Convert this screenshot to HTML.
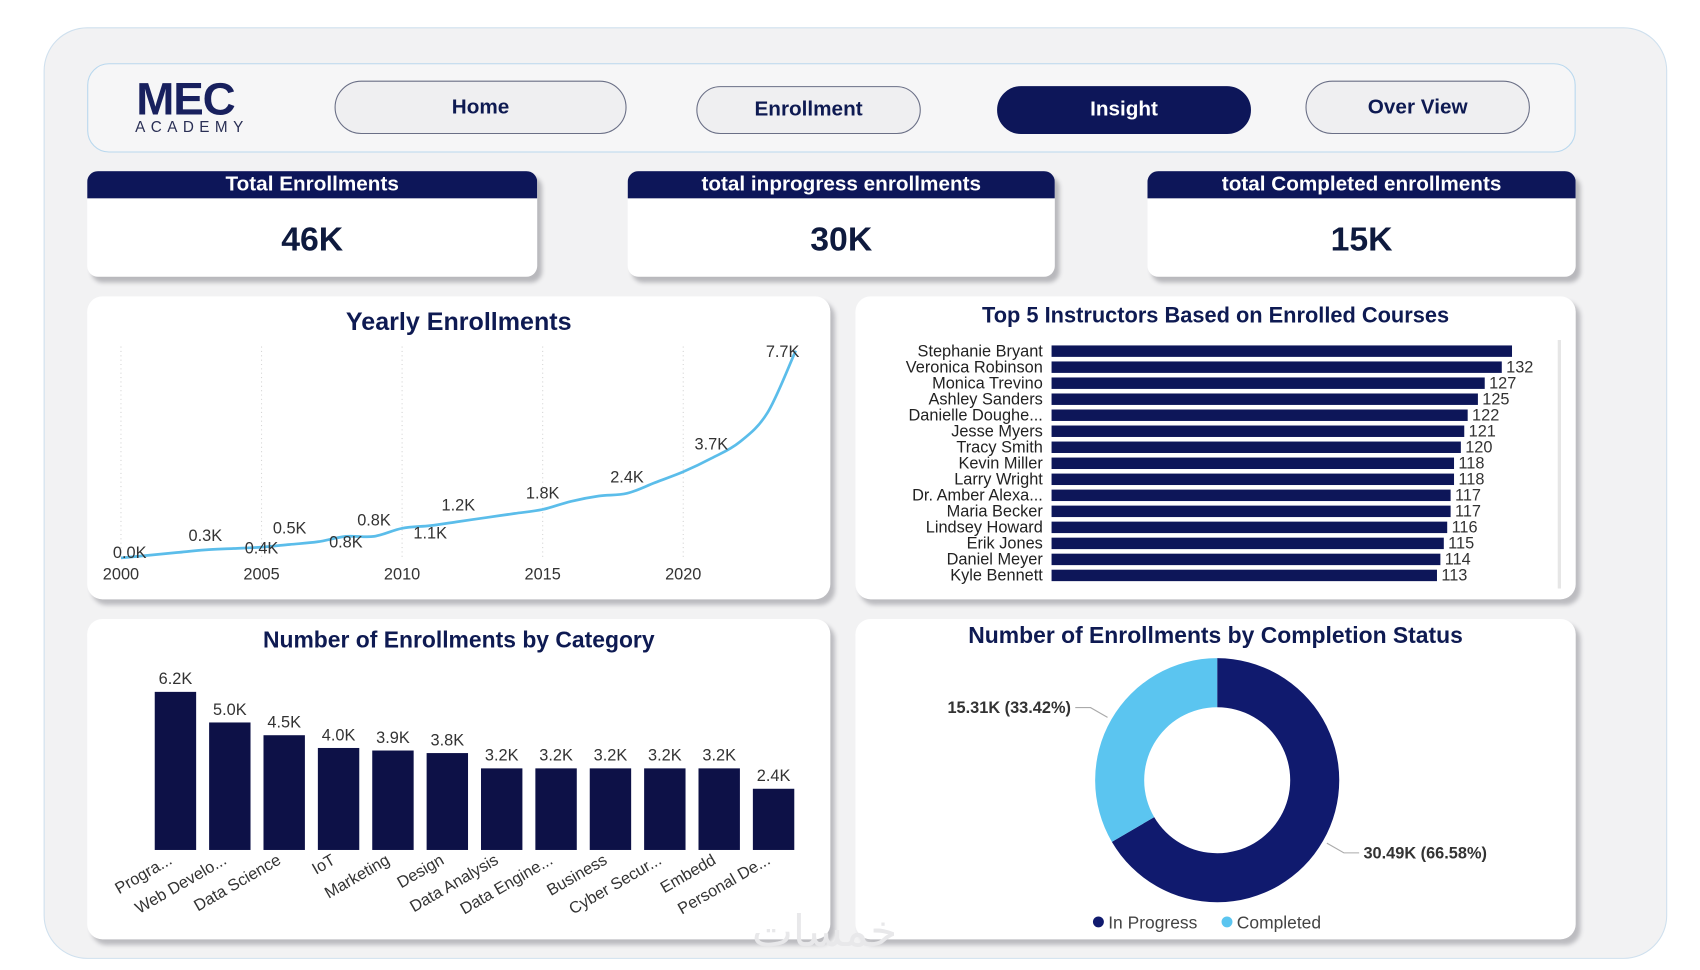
<!DOCTYPE html>
<html><head><meta charset="utf-8">
<style>
html,body{margin:0;padding:0;background:#fff;width:1700px;height:970px;overflow:hidden;font-family:"Liberation Sans",sans-serif;}
#wrap{position:absolute;left:0;top:0;width:1560px;height:890px;transform:scale(1.0897);transform-origin:0 0;}
.abs{position:absolute;}
#outer{left:40px;top:25px;width:1488px;height:853px;background:#f2f2f3;border:1px solid #cfe0ee;border-radius:40px;}
#nav{left:80px;top:58px;width:1364px;height:80px;background:#f6f6f7;border:1.5px solid #b9d8ee;border-radius:20px;}
.btn{position:absolute;border:1.5px solid #6a6f86;background:#efeff1;border-radius:30px;color:#0e1a52;font-weight:bold;font-size:19px;display:flex;align-items:center;justify-content:center;box-sizing:border-box;}
.kpi{position:absolute;background:#fff;border-radius:10px;box-shadow:4px 5px 4px #b8b8bc;overflow:hidden;}
.kpi .h{background:#0d1659;color:#fff;font-weight:bold;font-size:19px;text-align:center;height:25px;line-height:25px;}
.kpi .v{text-align:center;font-weight:bold;font-size:31px;color:#0e1a3e;margin-top:20px;}
.panel{position:absolute;background:#fff;border-radius:14px;box-shadow:4px 5px 4px #bcbcc0;}
.title{position:absolute;left:0;right:0;text-align:center;font-weight:bold;color:#0e1a52;font-size:21px;}
svg text{font-family:"Liberation Sans",sans-serif;}
</style></head><body>
<div id="wrap">
<div id="outer" class="abs"></div>
<div id="nav" class="abs">
  <div class="abs" style="left:44px;top:12px;font-weight:900;font-size:42px;color:#18205e;letter-spacing:-1px;line-height:40px;">MEC</div>
  <div class="abs" style="left:43px;top:49px;font-size:14px;color:#2a2f55;letter-spacing:5px;">ACADEMY</div>
</div>
<div class="btn" style="left:307px;top:74px;width:268px;height:49px;">Home</div>
<div class="btn" style="left:639px;top:79px;width:206px;height:44px;">Enrollment</div>
<div class="btn" style="left:915px;top:79px;width:233px;height:44px;background:#0d1659;border-color:#0d1659;color:#fff;">Insight</div>
<div class="btn" style="left:1198px;top:74px;width:206px;height:49px;">Over View</div>

<div class="kpi" style="left:80px;top:157px;width:413px;height:97px;"><div class="h">Total Enrollments</div><div class="v">46K</div></div>
<div class="kpi" style="left:576px;top:157px;width:392px;height:97px;"><div class="h">total inprogress enrollments</div><div class="v">30K</div></div>
<div class="kpi" style="left:1053px;top:157px;width:393px;height:97px;"><div class="h">total Completed enrollments</div><div class="v">15K</div></div>

<div class="panel" style="left:80px;top:272px;width:682px;height:278px;">
  <div class="title" style="top:10px;font-size:23px;">Yearly Enrollments</div>
</div>
<div class="panel" style="left:785px;top:272px;width:661px;height:278px;">
  <div class="title" style="top:7px;font-size:20px;">Top 5 Instructors Based on Enrolled Courses</div>
</div>
<div class="panel" style="left:80px;top:568px;width:682px;height:294px;">
  <div class="title" style="top:8px;font-size:21px;">Number of Enrollments by Category</div>
</div>
<div class="panel" style="left:785px;top:568px;width:661px;height:294px;">
  <div class="title" style="top:4px;font-size:21px;">Number of Enrollments by Completion Status</div>
</div>

<svg id="charts" class="abs" style="left:0;top:0" width="1560" height="890"></svg>
<div class="abs" style="left:690px;top:832px;font-size:40px;color:#e8e8ea;font-family:'DejaVu Sans',sans-serif;">خمسات</div>
</div>
<script>
const years=[2000,2001,2002,2003,2004,2005,2006,2007,2008,2009,2010,2011,2012,2013,2014,2015,2016,2017,2018,2019,2020,2021,2022,2023,2024];
const yearValues=[0.0,0.1,0.2,0.3,0.35,0.4,0.5,0.6,0.8,0.8,1.1,1.2,1.35,1.5,1.65,1.8,2.1,2.3,2.4,2.8,3.2,3.7,4.3,5.4,7.7];
const yearLabels=[{i:0,t:"0.0K",dy:0},{i:3,t:"0.3K",dy:-8},{i:6,t:"0.5K",dy:-10},{i:5,t:"0.4K",dy:6},{i:8,t:"0.8K",dy:10},{i:9,t:"0.8K",dy:-10},{i:11,t:"1.1K",dy:12},{i:12,t:"1.2K",dy:-10},{i:15,t:"1.8K",dy:-10},{i:18,t:"2.4K",dy:-10},{i:21,t:"3.7K",dy:-8},{i:24,t:"7.7K",dy:6}];
const yearTicks=[2000,2005,2010,2015,2020];
const instructors=["Stephanie Bryant","Veronica Robinson","Monica Trevino","Ashley Sanders","Danielle Doughe...","Jesse Myers","Tracy Smith","Kevin Miller","Larry Wright","Dr. Amber Alexa...","Maria Becker","Lindsey Howard","Erik Jones","Daniel Meyer","Kyle Bennett"];
const instructorValues=[135,132,127,125,122,121,120,118,118,117,117,116,115,114,113];
const categories=["Progra...","Web Develo...","Data Science","IoT","Marketing","Design","Data Analysis","Data Engine...","Business","Cyber Secur...","Embedd","Personal De..."];
const categoryValues=[6.2,5.0,4.5,4.0,3.9,3.8,3.2,3.2,3.2,3.2,3.2,2.4];
const statusNames=["In Progress","Completed"];
const statusValues=[30.49,15.31];
const statusPct=["66.58%","33.42%"];
const statusColors=["#101a6e","#5bc5f0"];

const svg=document.getElementById('charts');
const NS="http://www.w3.org/2000/svg";
function mk(tag,attrs,parent){const e=document.createElementNS(NS,tag);for(const k in attrs)e.setAttribute(k,attrs[k]);(parent||svg).appendChild(e);return e;}

const xY=y=>111+(y-2000)*25.8;
const yY=v=>512-v*24.7;
yearTicks.forEach(t=>{
  const g=mk('line',{x1:xY(t),x2:xY(t),y1:318,y2:512,stroke:'#d6d6d6','stroke-dasharray':'1,3'});
  
  
  const tx=mk('text',{x:xY(t),y:532,'text-anchor':'middle','font-size':15,fill:'#333'});tx.textContent=t;
  
  
});
const pts=years.map((y,i)=>[xY(y),yY(yearValues[i])]);
let d="M"+pts[0][0]+","+pts[0][1];
for(let i=0;i<pts.length-1;i++){const p0=pts[Math.max(0,i-1)],p1=pts[i],p2=pts[i+1],p3=pts[Math.min(pts.length-1,i+2)];
  d+=` C${p1[0]+(p2[0]-p0[0])/6},${p1[1]+(p2[1]-p0[1])/6} ${p2[0]-(p3[0]-p1[0])/6},${p2[1]-(p3[1]-p1[1])/6} ${p2[0]},${p2[1]}`;}
const line=mk('path',{d:d,fill:'none',stroke:'#5bbdea','stroke-width':2.5});


yearLabels.forEach(l=>{const t=mk('text',{x:pts[l.i][0]+(l.i==24?-12:(l.i==0?8:0)),y:pts[l.i][1]+l.dy,'text-anchor':'middle','font-size':15,fill:'#333'});t.textContent=l.t;
  
  });

const xI=v=>965+v*3.13;
const rowY=i=>322+i*14.7;
mk('line',{x1:1431,x2:1431,y1:312,y2:540,stroke:'#e6e6e6','stroke-width':3});
instructors.forEach((n,i)=>{
  const b=mk('rect',{x:965,y:rowY(i)-5,width:xI(instructorValues[i])-965,height:10.5,fill:'#0d1659'});
  
  
  const t=mk('text',{x:957,y:rowY(i)+5,'text-anchor':'end','font-size':15,fill:'#222'});t.textContent=n;
  
  
  if(i>0){const v=mk('text',{x:xI(instructorValues[i])+4,y:rowY(i)+5,'font-size':15,fill:'#333'});v.textContent=instructorValues[i];
  
  }
});

const xC=i=>161+i*49.9;
const yC=v=>780-v*23.4;
categories.forEach((c,i)=>{
  const b=mk('rect',{x:xC(i)-19,y:yC(categoryValues[i]),width:38,height:780-yC(categoryValues[i]),fill:'#0d1147'});
  
  
  const v=mk('text',{x:xC(i),y:yC(categoryValues[i])-7,'text-anchor':'middle','font-size':15,fill:'#333'});v.textContent=categoryValues[i].toFixed(1)+"K";
  
  
  const t=mk('text',{x:xC(i)-2,y:792,'text-anchor':'end','font-size':15,fill:'#333',transform:`rotate(-30 ${xC(i)-2} 792)`});t.textContent=c;
  
  
});

const cx=1117,cy=716,R=112,r=67;
const total=statusValues.reduce((a,b)=>a+b,0);
let ang=0;
function pt(a,rad){return [cx+rad*Math.sin(a),cy-rad*Math.cos(a)];}
statusValues.forEach((v,i)=>{
  const a0=ang,a1=ang+v/total*2*Math.PI;ang=a1;
  const large=(a1-a0)>Math.PI?1:0;
  const p0=pt(a0,R),p1=pt(a1,R),q1=pt(a1,r),q0=pt(a0,r);
  const s=mk('path',{d:`M${p0} A${R},${R} 0 ${large} 1 ${p1} L${q1} A${r},${r} 0 ${large} 0 ${q0} Z`,fill:statusColors[i]});
  
  
  const mid=(a0+a1)/2;
  const e=pt(mid,R+4),f=pt(mid,R+22);
  const left=Math.sin(mid)<0;
  mk('polyline',{points:`${e} ${f} ${f[0]+(left?-14:14)},${f[1]}`,fill:'none',stroke:'#aaa'});
  const t=mk('text',{x:f[0]+(left?-18:18),y:f[1]+5,'text-anchor':left?'end':'start','font-size':15,'font-weight':'bold',fill:'#333'});
  t.textContent=v.toFixed(2)+"K ("+statusPct[i]+")";
  
  
});
let lx=1003;
statusNames.forEach((n,i)=>{
  const c=mk('circle',{cx:lx+5,cy:846,r:5,fill:statusColors[i]});
  
  
  const t=mk('text',{x:lx+14,y:852,'font-size':16,fill:'#444'});t.textContent=n;
  
  
  lx+=118;
});
</script>
</body></html>
